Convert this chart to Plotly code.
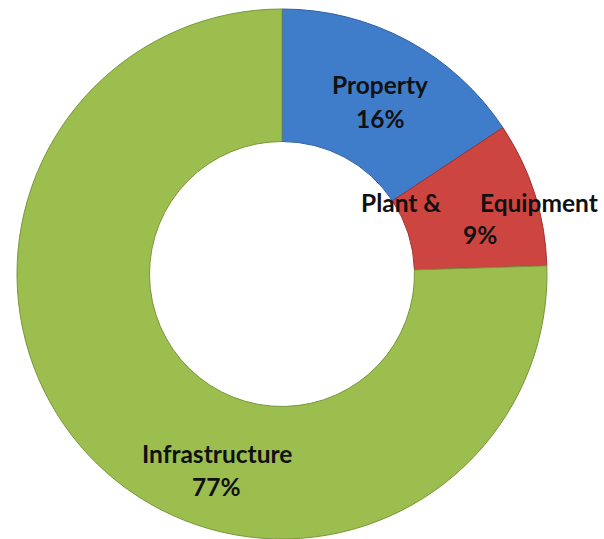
import plotly.graph_objects as go

# Asset categories and their share of the total (percent)
categories = ["Property", "Plant & Equipment", "Infrastructure"]
shares = [16, 9, 77]
slice_colors = ["#3F7DCB", "#CD4541", "#9BBE4E"]
edge_colors = ["#2F5F9E", "#9E3330", "#78963A"]

W, H = 604, 539

fig = go.Figure(
    go.Pie(
        labels=categories,
        values=shares,
        hole=0.5,
        sort=False,
        direction="clockwise",
        rotation=0,
        textinfo="none",
        hoverinfo="label+value",
        marker=dict(colors=slice_colors, line=dict(color=edge_colors, width=1)),
        domain=dict(x=[14 / W, 550 / W], y=[0, 0.9833]),
        showlegend=False,
    )
)

# Label lines: (text, x px, y px) centres
name_lines = {
    "Property": [("Property", 380, 85)],
    "Plant & Equipment": [("Plant &", 401, 202), ("Equipment", 539, 202)],
    "Infrastructure": [("Infrastructure", 217, 453)],
}
pct_pos = {
    "Property": (380, 118),
    "Plant & Equipment": (480, 235),
    "Infrastructure": (216, 486),
}

font = dict(family="Lato", size=24.5, color="#111111")
annotations = []
for cat, val in zip(categories, shares):
    for text, px, py in name_lines[cat]:
        annotations.append(dict(text=f"<b>{text}</b>", x=px / W, y=1 - py / H))
    px, py = pct_pos[cat]
    annotations.append(dict(text=f"<b>{val}%</b>", x=px / W, y=1 - py / H))

for a in annotations:
    a.update(xref="paper", yref="paper", showarrow=False, font=font,
             xanchor="center", yanchor="middle")

fig.update_layout(
    width=W,
    height=H,
    margin=dict(l=0, r=0, t=0, b=0),
    paper_bgcolor="white",
    plot_bgcolor="white",
    annotations=annotations,
)

fig.write_html("out.html")
